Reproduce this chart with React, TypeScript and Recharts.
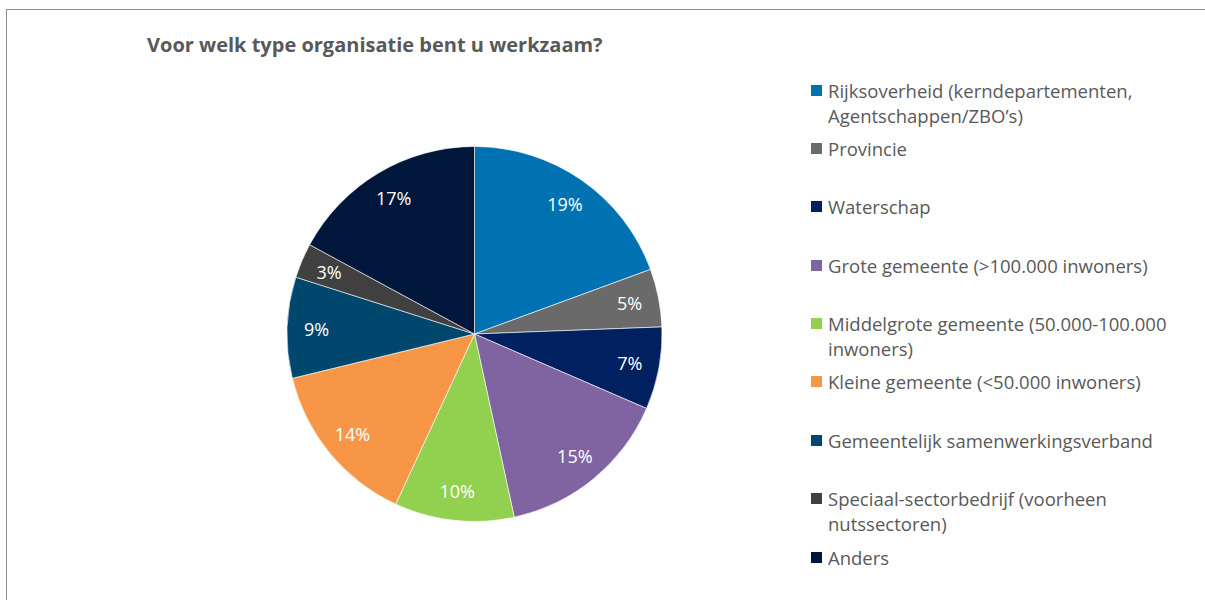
import { PieChart, Pie, Cell, Legend } from 'recharts';

const categories = [
    'Rijksoverheid (kerndepartementen, Agentschappen/ZBO’s)',
    'Provincie',
    'Waterschap',
    'Grote gemeente (>100.000 inwoners)',
    'Middelgrote gemeente (50.000-100.000 inwoners)',
    'Kleine gemeente (<50.000 inwoners)',
    'Gemeentelijk samenwerkingsverband',
    'Speciaal-sectorbedrijf (voorheen nutssectoren)',
    'Anders',
];

// shares (labels show them rounded)
const shares = [19.4, 5.0, 7.1, 15.1, 10.3, 14.3, 8.7, 3.0, 17.1];

const colors = [
    '#0071B1',
    '#6A6A6A',
    '#002060',
    '#8064A2',
    '#92D050',
    '#F79646',
    '#00476E',
    '#404040',
    '#00163A',
];

const title = 'Voor welk type organisatie bent u werkzaam?';

const data = categories.map((name, i) => ({ name, value: shares[i] }));

const FONT = "'Open Sans', sans-serif";
const RADIAN = Math.PI / 180;

const renderLabel = (props: any) => {
    const { cx, cy, midAngle, outerRadius, percent } = props;
    const r = outerRadius - 29.5;
    const x = cx + r * Math.cos(-midAngle * RADIAN);
    const y = cy + r * Math.sin(-midAngle * RADIAN);
    return (
        <text x={x} y={y} fill="#ffffff" textAnchor="middle" dominantBaseline="central" fontSize={18} fontFamily={FONT}>
            {`${Math.round(percent * 100)}%`}
        </text>
    );
};

const LegendList = () => (
    <div style={{ fontFamily: FONT, fontSize: 18.5, lineHeight: '25px', color: '#595959' }}>
        {categories.map((name, i) => (
            <div key={name} style={{ position: 'relative', height: 58.4, paddingLeft: 17 }}>
                <span
                    style={{
                        position: 'absolute',
                        left: 0,
                        top: 7,
                        width: 11,
                        height: 11,
                        background: colors[i],
                    }}
                />
                {name}
            </div>
        ))}
    </div>
);

const App = () => {
    return (
        <div style={{ position: 'absolute', left: 0, top: 0, width: 1205, height: 600, overflow: 'hidden', background: '#fff' }}>
            <div
                style={{
                    position: 'absolute',
                    left: 6,
                    top: 9,
                    width: 1250,
                    height: 650,
                    borderLeft: '1.5px solid #8d8d8d',
                    borderTop: '1.5px solid #8d8d8d',
                }}
            />
            <div
                style={{
                    position: 'absolute',
                    left: 147,
                    top: 31,
                    fontFamily: FONT,
                    fontSize: 20,
                    lineHeight: '28px',
                    fontWeight: 700,
                    color: '#595959',
                    whiteSpace: 'nowrap',
                }}
            >
                {title}
            </div>
            <PieChart width={1205} height={600} margin={{ top: 0, right: 0, bottom: 0, left: 0 }} style={{ position: 'absolute', left: 0, top: 0 }}>
                <Pie
                    data={data}
                    dataKey="value"
                    nameKey="name"
                    cx={474.5}
                    cy={334}
                    outerRadius={187.5}
                    startAngle={90}
                    endAngle={-270}
                    stroke="#ffffff"
                    strokeWidth={0.6}
                    label={renderLabel}
                    labelLine={false}
                    isAnimationActive={false}
                >
                    {data.map((d, i) => (
                        <Cell key={d.name} fill={colors[i]} />
                    ))}
                </Pie>
                <Legend
                    layout="vertical"
                    align="right"
                    verticalAlign="top"
                    content={LegendList}
                    wrapperStyle={{ left: 811, top: 77.5, width: 380 }}
                />
            </PieChart>
        </div>
    );
};

export default App;
